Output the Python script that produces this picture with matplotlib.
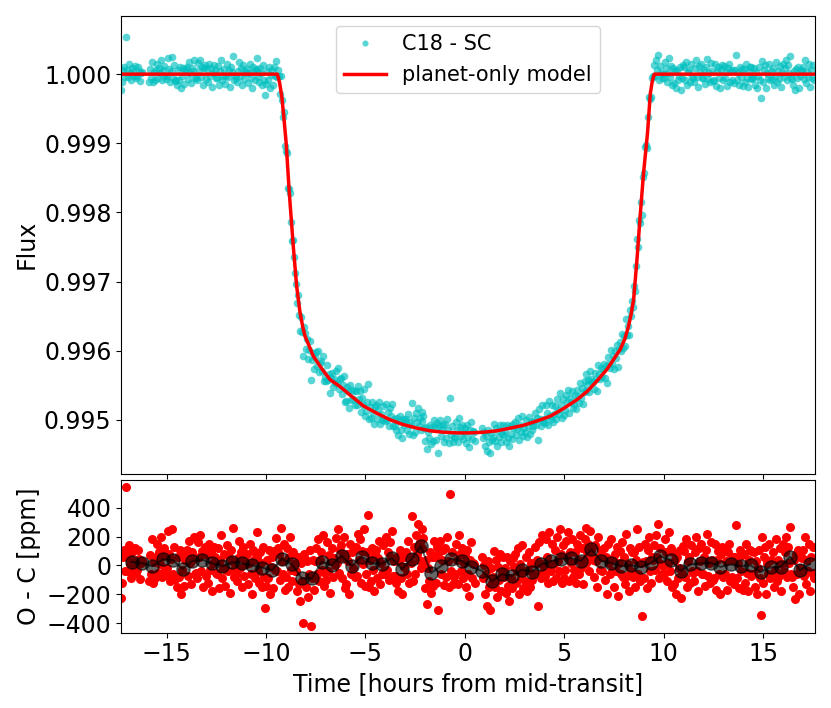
import numpy as np
import matplotlib
matplotlib.use('Agg')
import matplotlib.pyplot as plt
from matplotlib.ticker import FormatStrFormatter

nan = np.nan

# cadence of the light curve (hours from mid-transit)
t_start = -17.28
cadence = 0.05

# planet-only model
model_t = [-17.3, -9.43, -9.32, -9.21, -9.10, -8.99, -8.83, -8.63, -8.46, -8.29,
           -8.15, -8.04, -7.62, -7.20, -6.78, -6.28, -5.70, -5.10, -4.40, -3.76,
           -3.10, -2.42, -1.75, -1.08, -0.40, 0.27, 0.95, 1.61, 2.30, 2.95,
           3.60, 4.29, 4.95, 5.64, 6.15, 6.64, 7.15, 7.50, 7.82, 8.05,
           8.23, 8.36, 8.49, 8.66, 8.82, 8.99, 9.19, 9.33, 9.43, 9.53, 17.6]
model_f = [1.0, 1.0, 0.99988, 0.99968, 0.99936, 0.99901, 0.99828, 0.99751, 0.99693, 0.99655,
           0.99634, 0.99621, 0.99592, 0.99574, 0.99558, 0.99548, 0.99534, 0.99520, 0.99509, 0.99500,
           0.99493, 0.99488, 0.99484, 0.99482, 0.99481, 0.99481, 0.99482, 0.99484, 0.99488, 0.99492,
           0.99498, 0.99505, 0.99516, 0.99529, 0.99541, 0.99556, 0.99573, 0.99588, 0.99602, 0.99617,
           0.99635, 0.99652, 0.99674, 0.99732, 0.99795, 0.99857, 0.99915, 0.99972, 0.99990, 1.0, 1.0]

# O - C residuals [ppm], one row per half-hour bin (nan = gap in data)
resid_ppm = [
    -224, -120, 60, 110, -40, 544,
    60, -40, 140, 10, -90, 95, 30, -20, 120, -55,
    -30, 110, 45, -95, 15, 30, nan, nan, nan, nan,
    nan, nan, -110, 70, -60, 180, -120, 25, -85, 60,
    150, -50, 90, 10, 200, -80, 65, 120, -30, -65,
    -20, 240, 80, -110, 45, 250, -60, 130, -95, -90,
    -150, 60, -80, 110, -200, -30, 90, -140, 40, 70,
    110, -70, 170, 20, -130, 90, 45, 200, -60, -55,
    -90, 160, 60, 210, -40, 100, -150, 85, 130, -75,
    70, -120, 150, -30, 90, -180, 20, 130, 60, -50,
    -60, 120, -160, 40, 210, -90, -20, 80, -140, -30,
    140, -40, 60, -190, 110, 30, 260, -80, -20, -60,
    -110, 50, 170, -20, 90, -150, 130, -70, 40, 10,
    80, -130, 20, 150, -60, -200, 110, 40, -90, 80,
    60, 230, -40, -120, 90, 20, -150, 130, -82, -298,
    -140, 40, -90, 110, -200, -10, 60, -160, 100, -30,
    190, -40, 120, 80, -100, 260, 30, -60, 150, -170,
    -80, 120, -150, 60, 200, -30, -110, 90, 10, -40,
    -40, -180, 60, -130, -250, 20, -110, -397, 80, 47,
    -150, 30, -220, -60, 110, -418, -90, 40, -170, 28,
    120, -60, 180, -110, 40, 90, -30, 210, -140, -50,
    -100, 160, -40, 70, -190, 30, 120, -80, 50, 0,
    190, 20, 250, -50, 110, 140, -90, 60, 200, -160,
    -130, 80, 30, -200, 150, -60, 90, -20, 110, -80,
    130, -70, 220, 40, 180, -120, 100, 10, 250, -140,
    -60, 90, 348, -150, 40, -110, 120, -30, -180, 72,
    110, -90, 50, 170, -130, 20, -60, 140, -40, -60,
    200, -30, 90, -100, 160, 60, 240, -70, 30, -70,
    -120, 60, -180, 30, 110, -90, -200, 80, -10, 60,
    90, -60, 170, -120, 60, 20, 343, -110, 130, -63,
    210, 80, 290, 40, 160, -20, 250, 120, 190, 20,
    -160, 40, -268, -20, -110, 90, -190, 60, -140, 168,
    60, -120, 130, -311, 90, 170, -60, 40, 110, -139,
    120, -80, 200, 30, -150, 498, -40, 90, -130, -78,
    -60, 150, 40, -130, 210, 80, -40, 120, -90, 20,
    70, -150, 110, -60, -210, 40, 160, -90, 20, 10,
    -120, nan, nan, nan, nan, nan, nan, 60, -90, 2,
    -200, -60, -280, 30, -150, -310, -20, -120, -80, 100,
    -150, 40, -220, -10, -100, 80, -180, -60, 60, -80,
    -20, -190, 60, -140, -250, 30, -90, -160, 50, -10,
    80, -120, -40, 120, -200, 10, -90, 140, -160, -40,
    -110, 60, -180, -30, 90, -150, 20, -100, -60, 20,
    130, -60, 40, -280, 160, 20, -90, 210, -50, -10,
    -70, 180, 60, -120, 230, 10, -40, 150, -110, 10,
    110, -90, 200, 30, -40, 250, 80, -120, 140, -90,
    -30, 170, 60, 230, -110, 90, 20, 180, -80, -30,
    90, -120, 150, 40, -60, 210, -20, 120, -130, 40,
    180, 20, 260, 90, 150, -40, 240, 110, 60, 40,
    -80, 140, 30, -150, 200, 60, -30, 110, -40, 60,
    120, -100, 60, -200, 150, 20, -60, 180, -40, 50,
    -150, 80, -40, 130, -210, 20, 100, -60, 160, -80,
    60, -130, 220, -70, 10, -180, 120, -40, 90, -80,
    90, -150, 40, 250, -60, 130, -110, 20, -351, 21,
    -90, 150, 30, -160, 110, 200, -40, -120, 60, 40,
    140, -30, 210, 60, 284, -90, 120, 10, -60, -4,
    -60, 180, 90, -110, 20, 230, -40, 120, -150, 90,
    -130, 40, -200, 60, -90, -20, 110, -224, -50, 134,
    100, -80, 180, -150, 30, 60, -120, 140, -40, -50,
    -110, 90, 200, -40, -180, 120, 30, 150, -60, -60,
    60, -140, 110, 220, -70, 20, -120, 160, 40, -100,
    -90, 150, -170, 40, 100, -60, -200, 80, 130, -80,
    120, -60, 30, -170, 90, 150, -110, 40, -80, 60,
    -130, 60, 279, -90, 20, -160, 110, -40, 70, -169,
    80, -120, 150, -50, -180, 40, 110, -70, 100, -60,
    -60, 90, -150, 30, -200, -20, 110, -90, -346, 196,
    -120, 60, 130, -200, 20, -60, 150, -90, 40, -70,
    90, -150, -30, 180, -110, 40, -70, 120, -180, 10,
    150, -40, 90, 200, -80, 130, 20, 267, -60, -77,
    -150, 40, -230, 80, -60, 110, -200, -20, 60, 50,
    110, -70, 200, -130, 40, -40, 150, -180, 60, -50,
    130, -90,
]

# binned residuals (black points)
bin_t = [-16.76, -16.22, -15.72, -15.20, -14.70, -14.20, -13.70, -13.20, -12.70, -12.20,
         -11.70, -11.20, -10.70, -10.20, -9.70, -9.20, -8.70, -8.20, -7.70, -7.20,
         -6.70, -6.20, -5.69, -5.18, -4.68, -4.18, -3.67, -3.17, -2.67, -2.21,
         -1.70, -1.19, -0.69, -0.15, 0.32, 0.86, 1.36, 1.86, 2.36, 2.87,
         3.37, 3.84, 4.34, 4.85, 5.35, 5.85, 6.36, 6.86, 7.36, 7.87,
         8.37, 8.87, 9.38, 9.84, 10.35, 10.85, 11.35, 11.86, 12.36, 12.86,
         13.37, 13.87, 14.37, 14.88, 15.38, 15.88, 16.36, 16.86, 17.36]
bin_v = [25, 14, -5, 41, 37, -23, 32, 39, 14, -5,
         21, 14, 0, -16, -32, 46, 7, -90, -90, 25,
         2, 67, -3, 60, 14, 11, 51, -26, 46, 134,
         -53, -3, 46, 30, -10, -37, -109, -62, -72, -30,
         -44, 7, 30, 47, 50, 32, 111, 30, 18, -5,
         0, -12, 18, 64, 37, -37, 7, 14, 18, -10,
         7, -5, 0, -44, -14, -10, 60, -32, 9]

resid = np.array(resid_ppm, dtype=float)
time = t_start + cadence * np.arange(len(resid))
flux = np.interp(time, model_t, model_f) + resid * 1e-6

plt.rcParams['font.size'] = 17

fig = plt.figure(figsize=(8.31, 7.08), dpi=100)
ax1 = fig.add_axes([0.146, 0.3305, 0.8344, 0.6473])
ax2 = fig.add_axes([0.146, 0.1064, 0.8344, 0.2157], sharex=ax1)

ax1.plot(time, flux, 'o', color='c', ms=5.5, alpha=0.65, mew=0, label='C18 - SC')
ax1.plot(model_t, model_f, 'r-', lw=2.5, label='planet-only model')
ax1.set_ylabel('Flux', fontsize=17)
ax1.set_yticks([0.995, 0.996, 0.997, 0.998, 0.999, 1.000])
ax1.yaxis.set_major_formatter(FormatStrFormatter('%.3f'))
ax1.tick_params(labelbottom=False, labelsize=17)
ax1.legend(loc='upper center', fontsize=15, markerscale=0.8)

ax2.plot(time, resid, 'o', color='r', ms=6.5, mew=0)
ax2.plot(bin_t, bin_v, 'o-', color='k', ms=9.5, lw=1.5, alpha=0.6)
ax2.set_ylabel('O - C [ppm]', fontsize=17)
ax2.set_xlabel('Time [hours from mid-transit]', fontsize=17)
ax2.set_yticks([-400, -200, 0, 200, 400])
ax2.tick_params(labelsize=17)
ax2.set_xlim(-17.28, 17.6)

fig.savefig('out.png', dpi=100)
